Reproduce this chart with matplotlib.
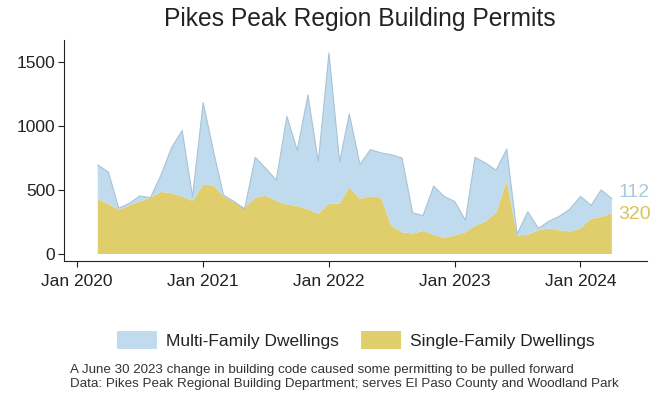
import numpy as np
import pandas as pd
import matplotlib
matplotlib.use("Agg")
import matplotlib.pyplot as plt
import matplotlib.dates as mdates

plt.rcParams['font.family'] = ['Liberation Sans', 'DejaVu Sans']

# monthly permits, Mar 2020 - Apr 2024
months = pd.date_range("2020-03-01", "2024-04-01", freq="MS")

single_family = [430, 390, 345, 380, 410, 440, 485, 475, 450, 415,
                 540, 535, 450, 405, 360, 440, 455, 415, 385, 375,
                 350, 315, 390, 395, 520, 430, 450, 440, 220, 170,
                 160, 180, 150, 125, 145, 170, 220, 255, 320, 570,
                 145, 150, 185, 200, 185, 175, 200, 275, 290, 320]

total = [695, 640, 357, 396, 453, 440, 620, 830, 965, 448,
         1182, 790, 460, 410, 350, 755, 670, 578, 1075, 810,
         1242, 720, 1570, 720, 1095, 700, 815, 790, 775, 750,
         320, 300, 530, 450, 410, 265, 755, 710, 655, 820,
         155, 330, 200, 255, 295, 350, 450, 380, 500, 432]

multi_family = [t - s for t, s in zip(total, single_family)]

blue = "#c0dbed"
yellow = "#e0cd6c"

fig = plt.figure(figsize=(6.59, 3.98), dpi=100)
ax = fig.add_axes([64 / 659, 1 - 261 / 398, 583 / 659, 221 / 398])

ax.stackplot(months, single_family, multi_family, colors=[yellow, blue],
             labels=["Single-Family Dwellings", "Multi-Family Dwellings"])
ax.plot(months, total, color="#a9c3d6", lw=0.8)

ax.set_xlim(pd.Timestamp("2019-11-24"), pd.Timestamp("2024-07-12"))
ax.set_ylim(-55, 1672)
ax.set_yticks([0, 500, 1000, 1500])
ax.xaxis.set_major_locator(mdates.YearLocator())
ax.xaxis.set_major_formatter(mdates.DateFormatter("Jan %Y"))
ax.tick_params(labelsize=12.5, color="#222222", length=4.5, pad=2, labelcolor="#222222")
ax.tick_params(axis="x", pad=5)
ax.spines[["top", "right"]].set_visible(False)
for s in ["left", "bottom"]:
    ax.spines[s].set_color("#222222")

# latest values next to the end of the series
ax.text(months[-1] + pd.Timedelta(days=18), total[-1] + 45, str(multi_family[-1]),
        color="#a8c8dc", fontsize=14, va="center")
ax.text(months[-1] + pd.Timedelta(days=18), single_family[-1] - 15, str(single_family[-1]),
        color="#d8c35a", fontsize=14, va="center")

fig.text(0.5455, 0.952, "Pikes Peak Region Building Permits", ha="center",
         va="center", fontsize=17.7, color="#222222")

handles, labels = ax.get_legend_handles_labels()
fig.legend(handles[::-1], labels[::-1], loc="center", bbox_to_anchor=(0.54, 0.146),
           ncol=2, frameon=False, fontsize=12.5, handlelength=2.3, handleheight=1.2,
           handletextpad=0.5, columnspacing=1.3, labelcolor="#222222")

fig.text(70 / 659, 1 - 370.5 / 398, "A June 30 2023 change in building code caused some permitting to be pulled forward",
         fontsize=9.6, color="#333333", va="center")
fig.text(70 / 659, 1 - 384 / 398, "Data: Pikes Peak Regional Building Department; serves El Paso County and Woodland Park",
         fontsize=9.6, color="#333333", va="center")

fig.savefig("out.png", dpi=100)
